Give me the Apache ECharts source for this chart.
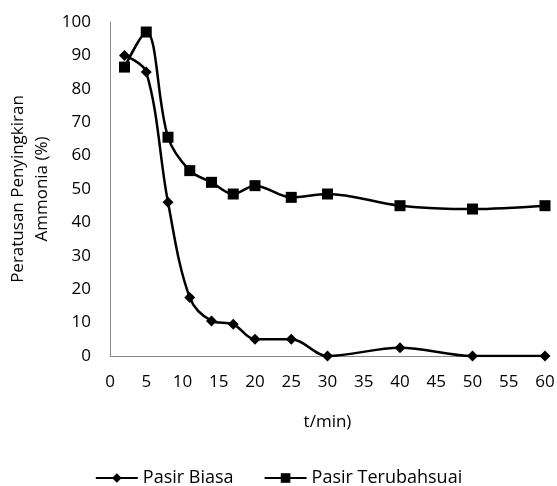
<!DOCTYPE html>
<html><head><meta charset="utf-8">
<script src="https://cdn.jsdelivr.net/npm/echarts@6/dist/echarts.min.js"></script>
<style>html,body{margin:0;padding:0;background:#fff}#c{width:557px;height:486px}</style>
</head><body><div id="c"></div>
<script>
var times = [2, 5, 8, 11, 14, 17, 20, 25, 30, 40, 50, 60];
var pasirBiasa = [90, 85, 46, 17.5, 10.5, 9.5, 5, 5, 0, 2.5, 0, 0];
var pasirTerubahsuai = [86.5, 97, 65.5, 55.5, 52, 48.5, 51, 47.5, 48.5, 45, 44, 45];
var xTicks = [0, 5, 10, 15, 20, 25, 30, 35, 40, 45, 50, 55, 60];
var yTicks = [0, 10, 20, 30, 40, 50, 60, 70, 80, 90, 100];

function pairs(xs, ys) { return xs.map(function (x, i) { return [x, ys[i]]; }); }
var font = 'Open Sans';
var chart = echarts.init(document.getElementById('c'));
chart.setOption({
  animation: false,
  textStyle: { fontFamily: font },
  grid: { left: 110, right: 12, top: 22, bottom: 130, containLabel: false, outerBoundsMode: 'none' },
  xAxis: {
    type: 'value', min: xTicks[0], max: xTicks[xTicks.length - 1], interval: 5,
    name: 't/min)', nameLocation: 'middle', nameGap: 58,
    nameTextStyle: { fontSize: 17, color: '#000', fontFamily: font },
    axisLine: { lineStyle: { color: '#888', width: 1 } },
    axisTick: { show: false },
    splitLine: { show: false },
    axisLabel: { fontSize: 17, color: '#000', margin: 18, fontFamily: font }
  },
  yAxis: {
    type: 'value', min: yTicks[0], max: yTicks[yTicks.length - 1], interval: 10,
    name: 'Peratusan Penyingkiran\nAmmonia (%)', nameLocation: 'middle', nameGap: 56,
    nameMoveOverlap: false,
    nameTextStyle: { fontSize: 17, color: '#000', fontFamily: font, lineHeight: 24 },
    axisLine: { show: true, lineStyle: { color: '#888', width: 1 } },
    axisTick: { show: false },
    splitLine: { show: false },
    axisLabel: { fontSize: 17, color: '#000', margin: 19, fontFamily: font }
  },
  legend: {
    bottom: -1, left: 'center', padding: 0, itemGap: 30, itemWidth: 42, itemHeight: 12,
    textStyle: { fontSize: 18, color: '#000', fontFamily: font },
    data: ['Pasir Biasa', 'Pasir Terubahsuai']
  },
  series: [
    {
      name: 'Pasir Biasa', type: 'line', smooth: 0.35,
      data: pairs(times, pasirBiasa),
      symbol: 'diamond', symbolSize: 11,
      lineStyle: { color: '#000', width: 2.5 },
      itemStyle: { color: '#000' }
    },
    {
      name: 'Pasir Terubahsuai', type: 'line', smooth: 0.35,
      data: pairs(times, pasirTerubahsuai),
      symbol: 'rect', symbolSize: 11,
      lineStyle: { color: '#000', width: 2.5 },
      itemStyle: { color: '#000' }
    }
  ]
});
</script></body></html>
